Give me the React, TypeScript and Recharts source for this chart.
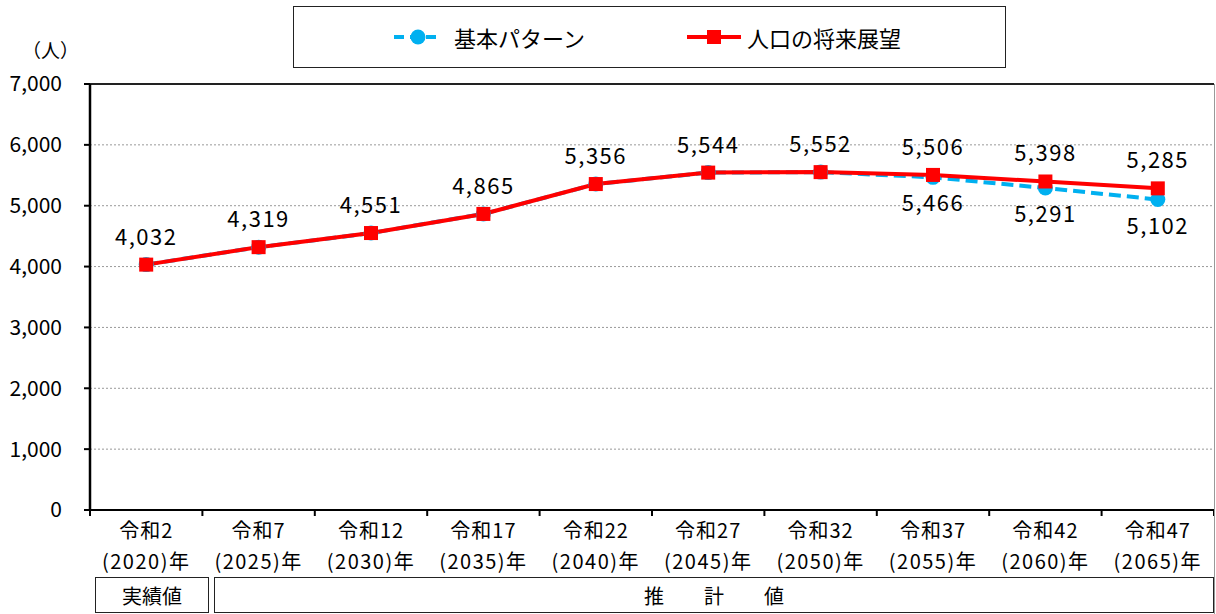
import React from 'react';
import { ComposedChart, Line, XAxis, YAxis, CartesianGrid, LabelList, ReferenceLine } from 'recharts';

const categories = ['令和2', '令和7', '令和12', '令和17', '令和22', '令和27', '令和32', '令和37', '令和42', '令和47'];
const years = ['2020', '2025', '2030', '2035', '2040', '2045', '2050', '2055', '2060', '2065'];
const basicPattern = [4032, 4319, 4551, 4865, 5356, 5544, 5552, 5466, 5291, 5102];
const outlook = [4032, 4319, 4551, 4865, 5356, 5544, 5552, 5506, 5398, 5285];
const yTicks = [0, 1000, 2000, 3000, 4000, 5000, 6000, 7000];

const data = categories.map((c, i) => ({
  name: c,
  year: years[i],
  basic: basicPattern[i],
  outlook: outlook[i],
}));

const FONT = '"Noto Sans CJK JP", "Noto Sans", sans-serif';
const W = 1216;
const H = 614;
const PLOT_LEFT = 90;
const PLOT_RIGHT = 1214;
const BAND = (PLOT_RIGHT - PLOT_LEFT) / categories.length;

const fmt = (v: number) => v.toLocaleString('en-US');

function XTick(props: any) {
  const { x, y, payload, index } = props;
  const d = data[index];
  return (
    <g>
      <line x1={x - BAND / 2} y1={y - 8} x2={x - BAND / 2} y2={y - 2} stroke="#000" strokeWidth={2} />
      {index === categories.length - 1 && (
        <line x1={x + BAND / 2} y1={y - 8} x2={x + BAND / 2} y2={y - 2} stroke="#000" strokeWidth={2} />
      )}
      <text x={x} y={y + 20} textAnchor="middle" fontSize={20} letterSpacing={1} fontFamily={FONT} fill="#000">
        {payload.value}
      </text>
      <text x={x} y={y + 51} textAnchor="middle" fontSize={20} letterSpacing={1.5} fontFamily={FONT} fill="#000">
        ({d.year})年
      </text>
    </g>
  );
}

function OutlookLabel(props: any) {
  const { x, y, value } = props;
  return (
    <text x={x} y={y - 20} textAnchor="middle" fontSize={22} letterSpacing={1.5} fontFamily={FONT} fill="#000">
      {fmt(value)}
    </text>
  );
}

function BasicLabel(props: any) {
  const { x, y, value, index } = props;
  if (index < 7) return null;
  return (
    <text x={x} y={y + 34} textAnchor="middle" fontSize={22} letterSpacing={1.5} fontFamily={FONT} fill="#000">
      {fmt(value)}
    </text>
  );
}

function Square(props: any) {
  const { cx, cy } = props;
  return <rect x={cx - 7} y={cy - 7} width={14} height={14} fill="#FF0000" />;
}

function Circle(props: any) {
  const { cx, cy } = props;
  return <circle cx={cx} cy={cy} r={7.5} fill="#00B0F0" />;
}

export default function App() {
  return (
    <div style={{ position: 'absolute', left: 0, top: 0, width: W, height: H, background: '#fff', fontFamily: FONT }}>
      <div
        style={{
          position: 'absolute',
          left: 293,
          top: 6,
          width: 713,
          height: 62,
          border: '1.5px solid #222',
          boxSizing: 'border-box',
          display: 'flex',
          alignItems: 'center',
          fontSize: 22,
          color: '#000',
        }}
      >
        <svg width={52} height={20} style={{ marginLeft: 98 }}>
          <line x1={2} y1={10} x2={50} y2={10} stroke="#00B0F0" strokeWidth={4} strokeDasharray="10 6" />
          <circle cx={26} cy={10} r={7.5} fill="#00B0F0" />
        </svg>
        <span style={{ marginLeft: 10 }}>基本パターン</span>
        <svg width={58} height={20} style={{ marginLeft: 100 }}>
          <line x1={2} y1={10} x2={56} y2={10} stroke="#FF0000" strokeWidth={4} />
          <rect x={22} y={3} width={14} height={14} fill="#FF0000" />
        </svg>
        <span style={{ marginLeft: 4 }}>人口の将来展望</span>
      </div>
      <div style={{ position: 'absolute', left: 22, top: 36, fontSize: 19, color: '#000' }}>（人）</div>
      <ComposedChart width={W} height={H} data={data} margin={{ top: 84, right: W - PLOT_RIGHT, left: 0, bottom: 36 }}>
        <CartesianGrid vertical={false} stroke="#999" strokeDasharray="2 2" />
        <XAxis
          dataKey="name"
          scale="band"
          interval={0}
          height={68}
          tick={<XTick />}
          tickLine={false}
          axisLine={{ stroke: '#000', strokeWidth: 2 }}
        />
        <YAxis
          domain={[0, 7000]}
          ticks={yTicks}
          width={PLOT_LEFT}
          tickFormatter={fmt}
          tickSize={6}
          tickMargin={22}
          tick={{ fontSize: 21, fontFamily: FONT, fill: '#000' }}
          tickLine={{ stroke: '#000', strokeWidth: 2 }}
          axisLine={{ stroke: '#000', strokeWidth: 2.5 }}
        />
        <ReferenceLine y={7000} stroke="#222" strokeWidth={2} />
        <Line
          dataKey="basic"
          stroke="#00B0F0"
          strokeWidth={4}
          strokeDasharray="12 6"
          dot={<Circle />}
          activeDot={false}
          isAnimationActive={false}
        >
          <LabelList dataKey="basic" content={<BasicLabel />} />
        </Line>
        <Line
          dataKey="outlook"
          stroke="#FF0000"
          strokeWidth={4}
          dot={<Square />}
          activeDot={false}
          isAnimationActive={false}
        >
          <LabelList dataKey="outlook" content={<OutlookLabel />} />
        </Line>
      </ComposedChart>
      <div style={{ position: 'absolute', left: PLOT_RIGHT, top: 84, width: 0, height: H - 84, borderLeft: '1.5px solid #999' }} />
      <div
        style={{
          position: 'absolute',
          left: 95,
          top: 577,
          width: 114,
          height: 36,
          border: '1.5px solid #222',
          boxSizing: 'border-box',
          display: 'flex',
          alignItems: 'center',
          justifyContent: 'center',
          fontSize: 20,
        }}
      >
        実績値
      </div>
      <div
        style={{
          position: 'absolute',
          left: 214,
          top: 577,
          width: PLOT_RIGHT - 214,
          height: 36,
          border: '1.5px solid #222',
          boxSizing: 'border-box',
          display: 'flex',
          alignItems: 'center',
          justifyContent: 'center',
          fontSize: 20,
          letterSpacing: 40,
          paddingLeft: 40,
        }}
      >
        推計値
      </div>
    </div>
  );
}
